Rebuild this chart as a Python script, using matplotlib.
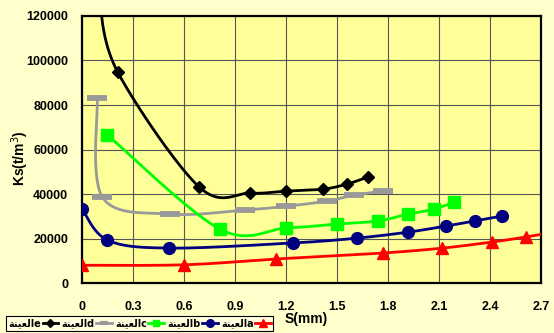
import numpy as np
import matplotlib
matplotlib.use("Agg")
import matplotlib.pyplot as plt
from matplotlib.lines import Line2D

# Settlement S (mm) versus subgrade modulus Ks (t/m^3) for five samples
a_x = [0.0, 0.6, 1.14, 1.77, 2.12, 2.41, 2.61, 2.85]
a_y = [8000, 8200, 10800, 13500, 15700, 18400, 20700, 23800]

b_x = [0.0, 0.15, 0.51, 1.24, 1.62, 1.92, 2.14, 2.31, 2.47]
b_y = [33300, 19300, 15700, 18000, 20200, 22900, 25600, 27900, 30100]

c_x = [0.15, 0.81, 1.2, 1.5, 1.74, 1.92, 2.07, 2.19]
c_y = [66500, 24300, 24700, 26500, 27900, 31000, 33200, 36400]

d_x = [0.09, 0.12, 0.52, 0.96, 1.2, 1.44, 1.6, 1.77]
d_y = [83100, 38600, 31000, 32800, 34500, 36800, 39500, 41300]

e_x = [0.1, 0.21, 0.69, 0.99, 1.2, 1.42, 1.56, 1.68]
e_y = [128000, 94800, 43100, 40400, 41300, 42200, 44500, 47600]

x_ticks = [0, 0.3, 0.6, 0.9, 1.2, 1.5, 1.8, 2.1, 2.4, 2.7]
y_ticks = [0, 20000, 40000, 60000, 80000, 100000, 120000]

# "العينة" in presentation forms, visual left-to-right order
WORD = "\uFE94\uFEE8\uFEF4\uFECC\uFEDF\uFE8D"


def smooth(xs, ys, n=40):
    """Catmull-Rom style cubic Bezier through the points."""
    p = np.column_stack([xs, ys]).astype(float)
    out = [p[0]]
    for i in range(len(p) - 1):
        p0 = p[i - 1] if i > 0 else p[i]
        p1 = p[i]
        p2 = p[i + 1]
        p3 = p[i + 2] if i + 2 < len(p) else p[i + 1]
        c1 = p1 + (p2 - p0) / 6.0
        c2 = p2 - (p3 - p1) / 6.0
        t = np.linspace(0, 1, n)[1:, None]
        seg = ((1 - t) ** 3) * p1 + 3 * ((1 - t) ** 2) * t * c1 \
            + 3 * (1 - t) * t ** 2 * c2 + t ** 3 * p2
        out.extend(seg)
    out = np.array(out)
    return out[:, 0], out[:, 1]


fig = plt.figure(figsize=(5.54, 3.33), dpi=100, facecolor="#FFFFCC")
ax = fig.add_axes([0.148, 0.150, 0.8285, 0.802])
ax.set_facecolor("#FFFF99")

series = [
    (e_x, e_y, "black", "D", 6.5, 1.0, 4.5, 1.0),
    (d_x, d_y, "#999999", "_", 14, 4.2, 6, 3.0),
    (c_x, c_y, "#00FF00", "s", 8, 1.0, 5, 1.0),
    (b_x, b_y, "#000080", "o", 8.5, 1.0, 5.5, 1.0),
    (a_x, a_y, "#FF0000", "^", 8.5, 1.0, 5.5, 1.0),
]
labels = [WORD + n for n in ["e", "d", "c", "b", "a"]]

handles = []
for (xs, ys, col, mk, ms, mew, lms, lmew), lab in zip(series, labels):
    sx, sy = smooth(xs, ys)
    ax.plot(sx, sy, color=col, lw=2.0, zorder=3)
    ax.plot(xs, ys, ls="none", marker=mk, ms=ms, color=col,
            markeredgecolor=col, markeredgewidth=mew, zorder=4)
    handles.append(Line2D([], [], color=col, lw=2.0, marker=mk, ms=lms,
                          markeredgecolor=col, markeredgewidth=lmew))

ax.set_xlim(0, 2.7)
ax.set_ylim(0, 120000)
ax.set_xticks(x_ticks)
ax.set_xticklabels([("%g" % v) for v in x_ticks])
ax.set_yticks(y_ticks)
ax.set_yticklabels([str(v) for v in y_ticks])
ax.grid(True, color="#555555", lw=0.8)
ax.set_axisbelow(True)
for s in ax.spines.values():
    s.set_color("black")
    s.set_linewidth(1.6)
ax.tick_params(length=0, pad=10, labelsize=9)
for t in ax.get_xticklabels() + ax.get_yticklabels():
    t.set_fontfamily("Liberation Sans")
    t.set_fontweight("bold")
ax.tick_params(axis="x", pad=13)

fig.text(20 / 554, 1 - 158 / 333, "Ks(t/m$^3$)", rotation=90, ha="center",
         va="center", fontsize=10, fontweight="bold", family="Liberation Sans")
fig.text(306 / 554, 1 - 319 / 333, "S(mm)", ha="center", va="center",
         fontsize=10, fontweight="bold", family="Liberation Sans")

leg = fig.legend(handles, labels, loc="lower left",
                 bbox_to_anchor=(6 / 554, 2 / 333), ncol=5, markerfirst=False,
                 frameon=True, fancybox=False, edgecolor="black",
                 facecolor="#FFFFE0", framealpha=1, handlelength=1.6,
                 handletextpad=0.15, columnspacing=0.35, borderpad=0.25,
                 borderaxespad=0,
                 prop={"family": "DejaVu Sans", "weight": "bold", "size": 7})
leg.get_frame().set_linewidth(0.8)

fig.savefig("out.png", dpi=100, facecolor=fig.get_facecolor())
